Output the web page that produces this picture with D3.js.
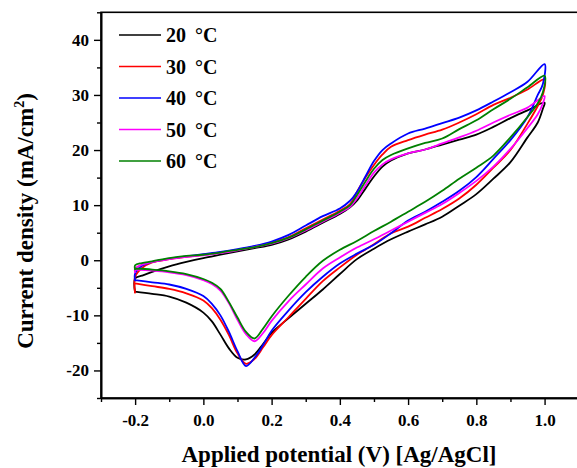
<!DOCTYPE html>
<html>
<head>
  <meta charset="utf-8">
  <script src="https://d3js.org/d3.v7.min.js"></script>
  <style>
    body { margin: 0; background: #fff; }
    svg text { font-family: "Liberation Serif", "Times New Roman", serif; font-weight: bold; }
  </style>
</head>
<body>
  <div id="my_dataviz"></div>

<script>

  // potentials of the forward (anodic) and reverse (cathodic) sweeps
  var fwdV = [-0.2, -0.2, -0.18, -0.15, -0.1, -0.05, 0, 0.05, 0.1, 0.15, 0.2, 0.25, 0.3, 0.35, 0.4, 0.43, 0.45, 0.475, 0.5, 0.525, 0.55, 0.6, 0.65, 0.7, 0.75, 0.8, 0.85, 0.9, 0.95, 1.0];
  var revV = [0.995, 0.98, 0.95, 0.9, 0.85, 0.8, 0.75, 0.7, 0.65, 0.6, 0.55, 0.5, 0.45, 0.4, 0.35, 0.3, 0.25, 0.2, 0.175, 0.15, 0.125, 0.1, 0.075, 0.05, 0.025, 0, -0.05, -0.1, -0.15, -0.2];

  var labels = ["20", "30", "40", "50", "60"];
  var colors = ["#000000", "#ff0000", "#0000ff", "#ff00ff", "#008000"];

  // current density (mA/cm2)
  var fwd20 = [-5.9, -3.3, -2.8, -2.1, -1.1, -0.3, 0.4, 1.0, 1.6, 2.2, 2.8, 3.8, 5.2, 6.8, 8.4, 9.6, 10.8, 13.0, 15.2, 17.0, 18.1, 19.4, 20.1, 21.0, 21.9, 22.8, 24.2, 25.8, 27.2, 28.6];
  var rev20 = [27.5, 25.0, 22.3, 17.8, 14.8, 12.0, 9.9, 7.9, 6.5, 5.2, 3.8, 2.1, 0.2, -2.5, -5.3, -7.9, -10.5, -13.2, -15.2, -17.1, -18.0, -17.7, -16.0, -13.5, -11.1, -9.5, -7.7, -6.6, -6.1, -5.7];
  var fwd30 = [-6.0, -3.0, -1.4, -0.4, 0.2, 0.6, 1.0, 1.4, 1.9, 2.5, 3.2, 4.2, 5.8, 7.4, 9.0, 10.2, 12.4, 15.0, 17.3, 19.2, 20.6, 21.8, 22.8, 23.7, 25.0, 26.5, 28.2, 29.5, 31.0, 32.8];
  var rev30 = [30.0, 28.0, 24.8, 20.0, 16.8, 13.7, 11.2, 9.3, 7.7, 6.1, 4.9, 2.9, 1.0, -1.3, -3.8, -7.0, -10.3, -13.6, -15.8, -17.9, -18.8, -16.9, -13.6, -10.8, -8.7, -7.3, -6.0, -5.2, -4.7, -4.2];
  var fwd40 = [-3.8, -2.4, -1.0, -0.3, 0.3, 0.7, 1.1, 1.5, 2.0, 2.6, 3.4, 4.6, 6.3, 8.0, 9.4, 10.8, 12.4, 15.2, 18.0, 20.0, 21.2, 23.0, 23.9, 24.9, 25.9, 27.2, 28.8, 30.5, 32.4, 35.6];
  var rev40 = [32.0, 30.0, 26.0, 21.8, 18.4, 15.1, 12.6, 10.6, 8.8, 7.2, 4.9, 2.8, 1.2, -0.6, -3.0, -5.8, -9.1, -12.8, -15.4, -17.7, -19.2, -16.5, -13.0, -10.0, -7.9, -6.5, -5.2, -4.4, -4.0, -3.6];
  var fwd50 = [-2.3, -1.5, -0.8, -0.3, 0.2, 0.6, 0.9, 1.3, 1.8, 2.4, 3.0, 4.0, 5.4, 7.0, 8.6, 9.7, 11.2, 13.6, 15.9, 17.4, 18.3, 19.4, 20.1, 21.2, 22.3, 23.5, 25.0, 26.4, 27.7, 29.8];
  var rev50 = [28.5, 26.5, 24.0, 20.2, 17.0, 14.4, 12.2, 10.2, 8.6, 7.0, 5.4, 3.8, 2.3, 0.5, -1.5, -4.4, -7.4, -11.0, -13.2, -14.7, -13.4, -10.8, -7.8, -5.5, -4.3, -3.6, -2.7, -2.2, -1.9, -1.7];
  var fwd60 = [-1.8, -0.9, -0.5, -0.2, 0.4, 0.8, 1.0, 1.4, 1.9, 2.4, 3.1, 4.1, 5.6, 7.2, 8.8, 10.0, 11.8, 14.3, 16.6, 18.2, 19.1, 20.3, 21.3, 22.1, 23.8, 25.4, 27.4, 29.3, 31.4, 33.5];
  var rev60 = [30.5, 28.5, 26.0, 22.3, 19.0, 16.8, 14.8, 12.6, 10.6, 8.8, 7.0, 5.3, 3.5, 1.9, -0.1, -3.0, -6.4, -10.2, -12.4, -14.2, -13.0, -10.4, -7.6, -5.2, -4.1, -3.4, -2.5, -2.0, -1.7, -1.5];

  var fwdAll = [fwd20, fwd30, fwd40, fwd50, fwd60];
  var revAll = [rev20, rev30, rev40, rev50, rev60];

  var xMajor = [-0.2, 0.0, 0.2, 0.4, 0.6, 0.8, 1.0];
  var xMinor = [-0.3, -0.1, 0.1, 0.3, 0.5, 0.7, 0.9, 1.1];
  var yMajor = [-20, -10, 0, 10, 20, 30, 40];
  var yMinor = [-25, -15, -5, 5, 15, 25, 35, 45];

  // set the dimensions and margins of the graph
  var W = 577, H = 468;
  var margin = {top: 12.3, left: 101},
      plotRight = 578.7,
      plotBottom = 398;

  var svg = d3.select("#my_dataviz")
    .append("svg")
      .attr("width", W)
      .attr("height", H);

  var x = d3.scaleLinear().domain([-0.3, 1.1]).range([margin.left, plotRight]);
  var y = d3.scaleLinear().domain([-25, 45]).range([plotBottom, margin.top]);

  // build one CV loop per temperature
  var loops = labels.map(function(l, i) {
    var pts = fwdV.map(function(v, k) { return [v, fwdAll[i][k]]; });
    revV.forEach(function(v, k) { pts.push([v, revAll[i][k]]); });
    return pts;
  });

  var line = d3.line()
    .x(function(d) { return x(d[0]); })
    .y(function(d) { return y(d[1]); })
    .curve(d3.curveCatmullRom.alpha(0.5));

  svg.append("g").selectAll("path")
    .data(loops)
    .enter().append("path")
      .attr("fill", "none")
      .attr("stroke", function(d, i) { return colors[i]; })
      .attr("stroke-width", 1.8)
      .attr("stroke-linejoin", "round")
      .attr("d", line);

  var hyph = function(fmt) {
    return function(d) { return d3.format(fmt)(d).replace("\u2212", "-"); };
  };

  // axes
  svg.append("g")
    .attr("transform", "translate(0," + plotBottom + ")")
    .call(d3.axisBottom(x).tickValues(xMajor).tickSize(7).tickPadding(9).tickSizeOuter(0)
      .tickFormat(hyph(".1f")));
  svg.append("g")
    .attr("transform", "translate(0," + plotBottom + ")")
    .call(d3.axisBottom(x).tickValues(xMinor).tickSize(4).tickFormat("").tickSizeOuter(0));

  svg.append("g")
    .attr("transform", "translate(" + margin.left + ",0)")
    .call(d3.axisLeft(y).tickValues(yMajor).tickSize(7).tickPadding(5).tickSizeOuter(0)
      .tickFormat(hyph("d")));
  svg.append("g")
    .attr("transform", "translate(" + margin.left + ",0)")
    .call(d3.axisLeft(y).tickValues(yMinor).tickSize(4).tickFormat("").tickSizeOuter(0));

  svg.selectAll(".domain").attr("stroke", "#000").attr("stroke-width", 1.6);
  svg.selectAll(".tick line").attr("stroke", "#000").attr("stroke-width", 1.4);
  svg.selectAll(".tick text")
    .attr("fill", "#000")
    .style("font-size", "17px")
    .style("font-family", "'Liberation Serif', serif")
    .style("font-weight", "bold");

  // frame
  svg.append("rect")
    .attr("x", margin.left).attr("y", margin.top)
    .attr("width", plotRight - margin.left).attr("height", plotBottom - margin.top)
    .attr("fill", "none").attr("stroke", "#000").attr("stroke-width", 1.6);

  // legend
  var leg = svg.append("g");
  labels.forEach(function(l, i) {
    var ly = 35 + i * 31.5;
    leg.append("line")
      .attr("x1", 119).attr("x2", 161).attr("y1", ly).attr("y2", ly)
      .attr("stroke", colors[i]).attr("stroke-width", 1.6);
    var t = leg.append("text")
      .attr("x", 166).attr("y", ly + 7)
      .style("font-size", "20px");
    t.append("tspan").text(l);
    t.append("tspan").attr("dx", 9).text("°C");
  });

  // axis titles
  var yt = svg.append("text")
    .attr("transform", "translate(33,221) rotate(-90)")
    .attr("text-anchor", "middle")
    .style("font-size", "23px");
  yt.append("tspan").text("Current density (mA/cm");
  yt.append("tspan").attr("dy", -9).style("font-size", "14px").text("2");
  yt.append("tspan").attr("dy", 9).text(")");

  svg.append("text")
    .attr("x", 339).attr("y", 462)
    .attr("text-anchor", "middle")
    .style("font-size", "23px")
    .text("Applied potential (V) [Ag/AgCl]");

</script>
</body>
</html>
